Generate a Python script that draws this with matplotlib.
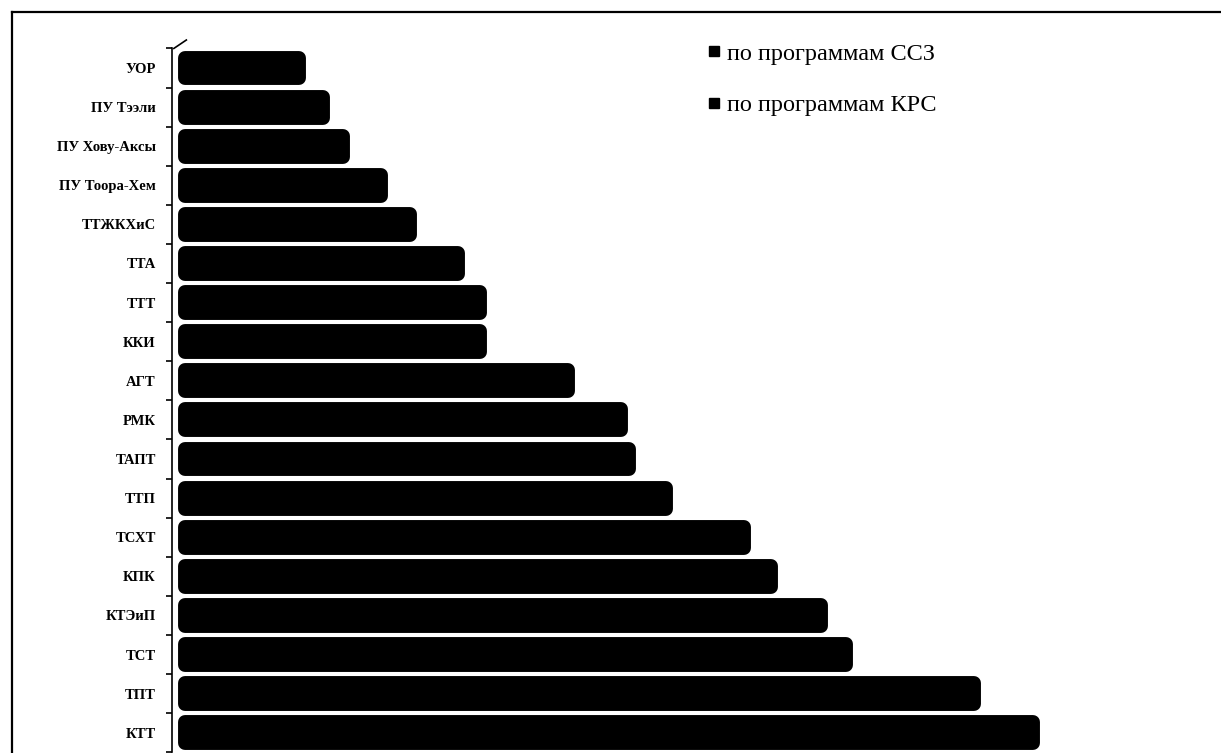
import matplotlib.pyplot as plt
from matplotlib.lines import Line2D

categories = ["УОР", "ПУ Тээли", "ПУ Хову-Аксы", "ПУ Тоора-Хем", "ТТЖКХиС", "ТТА",
              "ТТТ", "ККИ", "АГТ", "РМК", "ТАПТ", "ТТП", "ТСХТ", "КПК", "КТЭиП",
              "ТСТ", "ТПТ", "КТТ"]
values = [12.8, 15.2, 17.2, 21.0, 23.9, 28.7, 30.9, 30.9, 39.7, 45.0, 45.8,
          49.5, 57.3, 60.0, 65.0, 67.5, 80.3, 86.2]
legend_labels = ["по программам ССЗ", "по программам КРС"]

plt.rcParams['font.family'] = ['Liberation Serif', 'DejaVu Serif']

W, H = 1221, 753
fig = plt.figure(figsize=(W / 100, H / 100), dpi=100)

# axes placed in pixels: bars start at x=178, first bar centre at y=68, step 39.1
step = 39.1
left_px = 178
px_per_unit = 10.0
top_px = 68 - step / 2
ax = fig.add_axes([left_px / W, 1 - (top_px + step * len(categories)) / H,
                   (W - left_px) / W, step * len(categories) / H])

ypos = list(range(len(categories)))
lw = 10
lw_px = lw / 72 * 100
# thick round-joined edge gives the rounded bar ends
bars = ax.barh(ypos, values, height=0.89 - lw_px / step,
               color='black', edgecolor='black', linewidth=lw)
for b in bars:
    b.set_joinstyle('round')
    # shrink so the outer edge matches the value
    b.set_x(b.get_x() + lw_px / 2 / px_per_unit)
    b.set_width(b.get_width() - lw_px / px_per_unit)

ax.set_xlim(0, (W - left_px) / px_per_unit)
ax.set_ylim(len(categories) - 0.5, -0.5)

for s in ['top', 'right', 'bottom']:
    ax.spines[s].set_visible(False)
ax.spines['left'].set_linewidth(1.2)
ax.spines['left'].set_position(('outward', 4))

ax.set_xticks([])
ax.set_yticks(ypos)
ax.set_yticklabels(categories, fontsize=10.5, fontweight='bold')
ax.tick_params(axis='y', which='major', length=0, pad=12)
ax.set_yticks([i + 0.5 for i in range(-1, len(categories))], minor=True)
ax.tick_params(axis='y', which='minor', length=4, width=1.2, direction='out')

# little 3D wall edge at the top of the axis
ax.add_line(Line2D([-0.004, 0.008], [1.0, 1.012], transform=ax.transAxes,
                   color='black', lw=1.2, clip_on=False))

# frame of the chart area (top and left only visible in the scan)
fig.add_artist(Line2D([12 / W, 1], [1 - 12 / H, 1 - 12 / H], color='black', lw=1.6))
fig.add_artist(Line2D([12 / W, 12 / W], [0, 1 - 12 / H], color='black', lw=1.6))

handles = [Line2D([], [], marker='s', color='black', linestyle='none', markersize=6.5)
           for _ in legend_labels]
fig.legend(handles, legend_labels, loc='upper left',
           bbox_to_anchor=(686 / W, 1 - 21 / H), frameon=False,
           fontsize=17.5, handlelength=0.5, handletextpad=0.3, labelspacing=1.2)

fig.savefig("out.png", dpi=100)
